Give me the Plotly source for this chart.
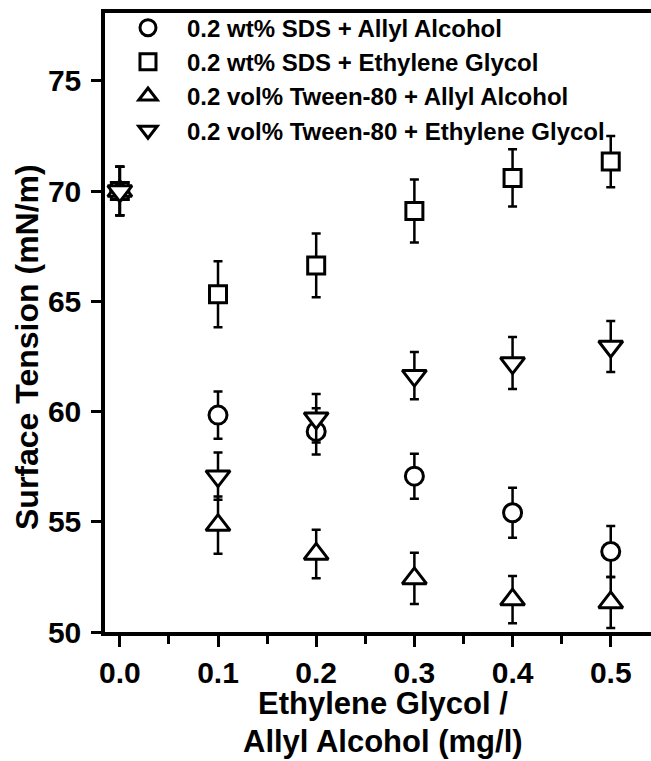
import plotly.graph_objects as go

x_vals = [0.0, 0.1, 0.2, 0.3, 0.4, 0.5]

sds_allyl = [70.0, 59.84, 59.1, 57.07, 55.41, 53.65]
sds_allyl_err = [1.1, 1.07, 1.05, 1.02, 1.13, 1.16]

sds_eg = [70.0, 65.32, 66.63, 69.1, 70.6, 71.34]
sds_eg_err = [1.1, 1.5, 1.45, 1.43, 1.3, 1.16]

tween_allyl = [70.0, 54.85, 53.54, 52.43, 51.47, 51.34]
tween_allyl_err = [1.1, 1.3, 1.1, 1.16, 1.07, 1.16]

tween_eg = [70.0, 57.07, 59.7, 61.63, 62.2, 62.95]
tween_eg_err = [1.1, 1.07, 1.1, 1.07, 1.18, 1.16]

series_names = [
    "0.2 wt% SDS + Allyl Alcohol",
    "0.2 wt% SDS + Ethylene Glycol",
    "0.2 vol% Tween-80 + Allyl Alcohol",
    "0.2 vol% Tween-80 + Ethylene Glycol",
]
y_ticks = [50, 55, 60, 65, 70, 75]
x_ticks = [0.0, 0.1, 0.2, 0.3, 0.4, 0.5]
x_ticklabels = ["0.0", "0.1", "0.2", "0.3", "0.4", "0.5"]

FONT = "Arial, Liberation Sans, sans-serif"

series = [
    (sds_allyl, sds_allyl_err, "circle", 18),
    (sds_eg, sds_eg_err, "square", 17),
    (tween_allyl, tween_allyl_err, "triangle-up", 21),
    (tween_eg, tween_eg_err, "triangle-down", 21),
]

fig = go.Figure()
for i, (yv, ev, sym, sz) in enumerate(series):
    fig.add_trace(go.Scatter(
        x=x_vals, y=yv, mode="markers", name=series_names[i],
        marker=dict(symbol=sym, size=sz, color="white",
                    line=dict(color="black", width=3)),
        error_y=dict(type="data", array=ev, visible=True,
                     color="black", thickness=2.5, width=4.5),
        cliponaxis=False,
    ))

fig.update_layout(
    width=651, height=761,
    margin=dict(l=105, r=0, t=13, b=129),
    paper_bgcolor="white", plot_bgcolor="white",
    font=dict(family=FONT, color="black", size=24, weight="bold"),
    showlegend=True,
    legend=dict(x=0.0073, y=1.012, xanchor="left", yanchor="top",
                bgcolor="rgba(0,0,0,0)", borderwidth=0,
                font=dict(family=FONT, size=24, color="black", weight="bold"),
                itemwidth=68, tracegroupgap=0),
    xaxis=dict(range=[-0.0151, 0.541], tickvals=x_ticks, ticktext=x_ticklabels,
               ticks="outside", ticklen=11, tickwidth=3, tickcolor="black",
               showline=True, linewidth=3.5, linecolor="black", mirror=True,
               showgrid=False, zeroline=False,
               tickfont=dict(family=FONT, size=30, weight="bold"),
               minor=dict(dtick=0.05, tick0=0.0, ticks="outside", ticklen=8,
                          tickwidth=3, tickcolor="black", showgrid=False)),
    yaxis=dict(range=[50, 78.08], tickvals=y_ticks,
               ticks="outside", ticklen=10, tickwidth=3, tickcolor="black",
               showline=True, linewidth=3.5, linecolor="black",
               showgrid=False, zeroline=False, ticklabelstandoff=4,
               tickfont=dict(family=FONT, size=30, weight="bold")),
    annotations=[
        dict(text="Ethylene Glycol /", xref="paper", yref="paper",
             x=0.509, y=-0.1163, xanchor="center", yanchor="middle",
             showarrow=False, font=dict(family=FONT, size=31, weight="bold")),
        dict(text="Allyl Alcohol (mg/l)", xref="paper", yref="paper",
             x=0.509, y=-0.1777, xanchor="center", yanchor="middle",
             showarrow=False, font=dict(family=FONT, size=31, weight="bold")),
        dict(text="Surface Tension (mN/m)", xref="paper", yref="paper",
             x=-0.1429, y=0.4604, xanchor="center", yanchor="middle",
             textangle=-90, showarrow=False,
             font=dict(family=FONT, size=32, weight="bold")),
    ],
)

fig.write_html("out.html")
